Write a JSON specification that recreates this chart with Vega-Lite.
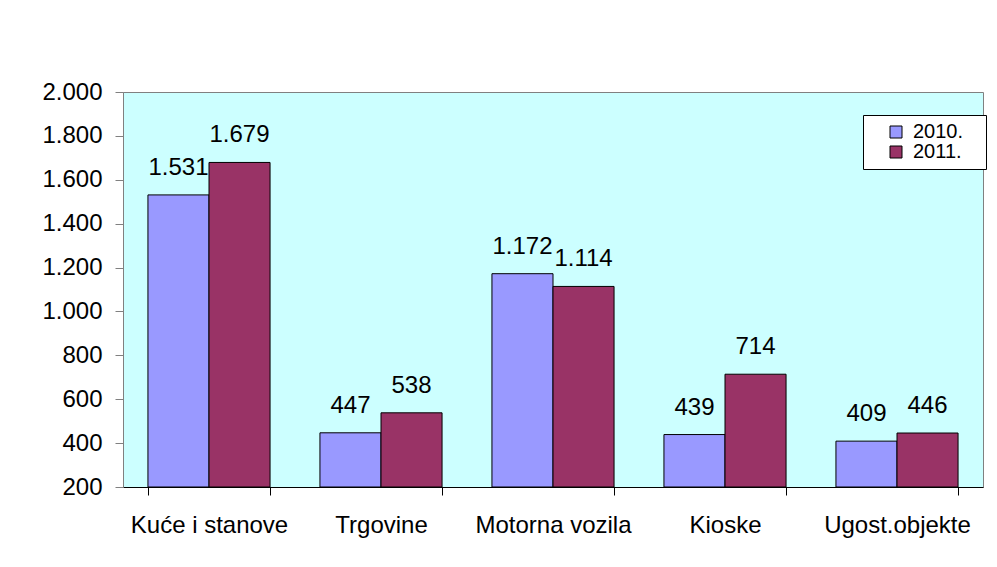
{
  "$schema": "https://vega.github.io/schema/vega-lite/v6.json",
  "width": 860,
  "height": 395,
  "autosize": {"type": "none"},
  "padding": {"left": 123, "top": 92, "right": 14, "bottom": 80},
  "background": "white",
  "config": {
    "font": "Liberation Sans",
    "view": {"fill": "#CCFFFF", "stroke": "#808080", "strokeWidth": 1},
    "locale": {"number": {"decimal": ",", "thousands": ".", "grouping": [3], "currency": ["", ""]}}
  },
  "data": {
    "values": [
      {"kategorija": "Kuće i stanove", "godina": "2010.", "vrijednost": 1531},
      {"kategorija": "Kuće i stanove", "godina": "2011.", "vrijednost": 1679},
      {"kategorija": "Trgovine", "godina": "2010.", "vrijednost": 447},
      {"kategorija": "Trgovine", "godina": "2011.", "vrijednost": 538},
      {"kategorija": "Motorna vozila", "godina": "2010.", "vrijednost": 1172},
      {"kategorija": "Motorna vozila", "godina": "2011.", "vrijednost": 1114},
      {"kategorija": "Kioske", "godina": "2010.", "vrijednost": 439},
      {"kategorija": "Kioske", "godina": "2011.", "vrijednost": 714},
      {"kategorija": "Ugost.objekte", "godina": "2010.", "vrijednost": 409},
      {"kategorija": "Ugost.objekte", "godina": "2011.", "vrijednost": 446}
    ]
  },
  "encoding": {
    "x": {
      "field": "kategorija",
      "type": "nominal",
      "sort": null,
      "scale": {"paddingInner": 0.29, "paddingOuter": 0.145},
      "axis": {
        "title": null,
        "labelAngle": 0,
        "labelFontSize": 24,
        "labelColor": "black",
        "tickBand": "extent",
        "tickSize": 8,
        "tickColor": "black",
        "domainColor": "black",
        "labelPadding": 18
      }
    },
    "xOffset": {"field": "godina", "type": "nominal", "scale": {"paddingInner": 0, "paddingOuter": 0}},
    "y": {
      "field": "vrijednost",
      "type": "quantitative",
      "scale": {"domain": [200, 2000], "zero": false},
      "axis": {
        "title": null,
        "values": [200, 400, 600, 800, 1000, 1200, 1400, 1600, 1800, 2000],
        "format": ",d",
        "labelFontSize": 24,
        "labelColor": "black",
        "tickSize": 8,
        "tickColor": "#808080",
        "domainColor": "#808080",
        "labelPadding": 13,
        "grid": false
      }
    }
  },
  "layer": [
    {
      "mark": {"type": "bar", "stroke": "black", "strokeWidth": 1},
      "encoding": {
        "y2": {"datum": 200},
        "color": {
          "field": "godina",
          "type": "nominal",
          "scale": {"domain": ["2010.", "2011."], "range": ["#9999FF", "#993366"]},
          "legend": {
            "orient": "none",
            "legendX": 740,
            "legendY": 23,
            "title": " ",
            "titleOrient": "left",
            "titlePadding": 16,
            "padding": 7,
            "strokeColor": "black",
            "fillColor": "white",
            "labelFontSize": 20,
            "labelColor": "black",
            "labelOffset": 7,
            "symbolType": "square",
            "symbolSize": 144,
            "symbolStrokeColor": "black",
            "symbolStrokeWidth": 1,
            "rowPadding": 0,
            "labelExpr": "datum.label + '\u2800'"
          }
        }
      }
    },
    {
      "mark": {"type": "text", "baseline": "alphabetic", "dy": -20, "fontSize": 24, "color": "black"},
      "encoding": {
        "text": {"field": "vrijednost", "type": "quantitative", "format": ",d"}
      }
    }
  ]
}
